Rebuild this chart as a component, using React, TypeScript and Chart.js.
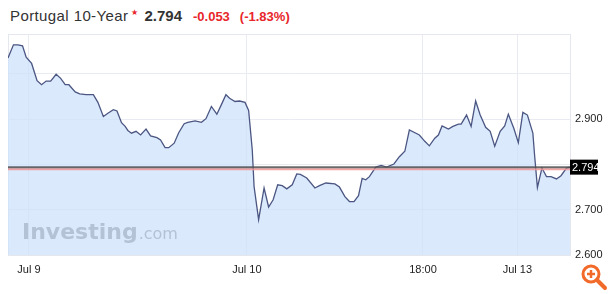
import { useEffect, useRef } from 'react';
import { Chart, registerables } from 'chart.js';

Chart.register(...registerables);

// Time axis in trading hours, Jul 9 00:00 = 0
const timeHours = [
  -2.3, -1.7, -1.2, -0.7, -0.3, 0.3, 0.9, 1.4, 1.9, 2.4,
  3.0, 3.5, 4.0, 4.4, 5.1, 5.6, 6.3, 7.1, 7.6, 8.2,
  8.7, 9.3, 9.7, 10.2, 10.6, 10.9, 11.3, 11.8, 12.3, 12.9,
  13.4, 14.1, 14.5, 15.0, 15.4, 16.0, 16.5, 17.1, 17.5, 18.3,
  19.0, 19.5, 20.1, 20.7, 21.2, 21.7, 22.1, 22.7, 23.2, 23.8,
  24.2, 24.6, 24.8, 25.3, 25.9, 26.4, 26.9, 27.4, 27.9, 28.4,
  29.0, 29.5, 29.9, 30.6, 31.5, 32.0, 32.7, 33.7, 34.2, 34.8,
  35.3, 35.8, 36.3, 36.7, 37.1, 37.5, 38.2, 38.8, 39.4, 40.2,
  40.8, 41.4, 41.9, 43.0, 43.6, 44.1, 44.7, 45.1, 45.5, 46.2,
  46.7, 47.3, 47.6, 48.2, 48.7, 49.2, 49.7, 50.3, 50.8, 51.3,
  51.9, 52.4, 52.8, 53.4, 53.9, 54.4, 54.9, 55.5, 55.7, 56.0,
  56.5, 57.0, 57.5, 58.1, 58.6, 59.2, 59.6,
];

const yields = [
  3.035, 3.064, 3.064, 3.062, 3.037, 3.023, 2.985, 2.976, 2.984, 2.984,
  2.999, 2.990, 2.976, 2.976, 2.960, 2.956, 2.954, 2.954, 2.937, 2.906,
  2.913, 2.921, 2.918, 2.892, 2.884, 2.875, 2.869, 2.873, 2.865, 2.878,
  2.863, 2.859, 2.854, 2.837, 2.837, 2.847, 2.870, 2.890, 2.893, 2.896,
  2.893, 2.901, 2.928, 2.911, 2.932, 2.954, 2.946, 2.939, 2.940, 2.937,
  2.919, 2.832, 2.751, 2.678, 2.748, 2.706, 2.722, 2.755, 2.753, 2.746,
  2.755, 2.779, 2.778, 2.770, 2.748, 2.753, 2.759, 2.757, 2.750, 2.729,
  2.718, 2.718, 2.731, 2.769, 2.766, 2.773, 2.794, 2.798, 2.794, 2.801,
  2.817, 2.829, 2.876, 2.865, 2.851, 2.841, 2.858, 2.865, 2.885, 2.878,
  2.884, 2.889, 2.889, 2.909, 2.884, 2.940, 2.909, 2.882, 2.873, 2.840,
  2.873, 2.885, 2.911, 2.880, 2.848, 2.915, 2.909, 2.869, 2.818, 2.749,
  2.792, 2.773, 2.773, 2.768, 2.775, 2.792, 2.794,
];

const xTickHours = [0, 24, 43.4, 53.8];
const xTickLabels = ['Jul 9', 'Jul 10', '18:00', 'Jul 13'];
const yTickValues = [2.6, 2.7, 2.8, 2.9, 3.0];
const yTickLabels = ['2.600', '2.700', '', '2.900', ''];

const titleName = 'Portugal 10-Year';
const lastValue = 2.794;
const lastLabel = '2.794';
const changeAbs = '-0.053';
const changePct = '(-1.83%)';

const X_MIN = -2.3;
const X_MAX = 59.7;
const Y_MIN = 2.6;
const Y_MAX = 3.088;

const FONT = "Arial, 'Liberation Sans', sans-serif";

export default function App() {
  const ref = useRef<HTMLCanvasElement | null>(null);

  useEffect(() => {
    const canvas = ref.current;
    if (!canvas) return;

    const overlay = {
      id: 'overlay',
      beforeDatasetsDraw(chart: any) {
        const { ctx, chartArea } = chart;
        ctx.save();
        ctx.strokeStyle = '#e4e7ee';
        ctx.lineWidth = 1;
        ctx.strokeRect(chartArea.left + 0.5, chartArea.top + 0.5, chartArea.right - chartArea.left - 1, chartArea.bottom - chartArea.top);
        ctx.restore();
      },
      afterDatasetsDraw(chart: any) {
        const { ctx, chartArea, scales } = chart;
        const y = scales.y.getPixelForValue(lastValue);
        ctx.save();
        // watermark
        ctx.fillStyle = 'rgba(150,162,180,0.55)';
        ctx.textBaseline = 'alphabetic';
        ctx.font = "bold 22px 'DejaVu Sans', sans-serif";
        ctx.fillText('Investing', chartArea.left + 14, 239);
        const w = ctx.measureText('Investing').width;
        ctx.font = "16px 'DejaVu Sans', sans-serif";
        ctx.fillText('.com', chartArea.left + 14 + w + 1, 239);
        // last value lines
        ctx.lineWidth = 2;
        ctx.strokeStyle = 'rgba(242,150,150,0.85)';
        ctx.beginPath();
        ctx.moveTo(chartArea.left, y + 2.2);
        ctx.lineTo(chartArea.right, y + 2.2);
        ctx.stroke();
        ctx.strokeStyle = 'rgba(80,80,80,0.85)';
        ctx.beginPath();
        ctx.moveTo(chartArea.left, y);
        ctx.lineTo(chartArea.right, y);
        ctx.stroke();
        ctx.restore();
      },
      afterDraw(chart: any) {
        const { ctx, chartArea, scales } = chart;
        const y = scales.y.getPixelForValue(lastValue);
        ctx.save();
        ctx.fillStyle = '#000';
        ctx.fillRect(chartArea.right - 1, y - 7.5, 28, 15);
        ctx.fillStyle = '#fff';
        ctx.font = `11px ${FONT}`;
        ctx.textBaseline = 'middle';
        ctx.textAlign = 'left';
        ctx.fillText(lastLabel, chartArea.right + 1, y + 0.5);
        ctx.restore();
      },
    };

    const chart = new Chart(canvas, {
      type: 'line',
      data: {
        datasets: [
          {
            data: timeHours.map((t, i) => ({ x: t, y: yields[i] })),
            borderColor: '#4b5682',
            borderWidth: 1.3,
            backgroundColor: 'rgba(205,226,251,0.75)',
            fill: 'start',
            pointRadius: 0,
            tension: 0,
          },
        ],
      },
      options: {
        animation: false,
        responsive: true,
        maintainAspectRatio: false,
        layout: { padding: { left: 8, top: 34, right: 0, bottom: 0 } },
        plugins: { legend: { display: false }, tooltip: { enabled: false } },
        scales: {
          x: {
            type: 'linear',
            min: X_MIN,
            max: X_MAX,
            afterBuildTicks: (scale: any) => {
              scale.ticks = xTickHours.map((v) => ({ value: v }));
            },
            afterFit: (scale: any) => {
              scale.height = 39;
            },
            grid: { color: '#e8ebf1', drawTicks: false },
            border: { display: false },
            ticks: {
              padding: 8,
              maxRotation: 0,
              autoSkip: false,
              color: '#222',
              font: { family: FONT, size: 11 },
              callback: (v: any) => {
                const i = xTickHours.indexOf(Number(v));
                return i >= 0 ? xTickLabels[i] : '';
              },
            },
          },
          y: {
            type: 'linear',
            position: 'right',
            min: Y_MIN,
            max: Y_MAX,
            afterBuildTicks: (scale: any) => {
              scale.ticks = yTickValues.map((v) => ({ value: v }));
            },
            afterFit: (scale: any) => {
              scale.width = 39;
            },
            grid: { color: '#e8ebf1', drawTicks: false },
            border: { display: false },
            ticks: {
              padding: 4,
              color: '#222',
              font: { family: FONT, size: 11 },
              callback: (v: any) => {
                const i = yTickValues.findIndex((t) => Math.abs(t - Number(v)) < 1e-6);
                return i >= 0 ? yTickLabels[i] : '';
              },
            },
          },
        },
      },
      plugins: [overlay],
    });
    return () => chart.destroy();
  }, []);

  return (
    <div style={{ position: 'absolute', left: 0, top: 0, width: 610, height: 294, background: '#fff', fontFamily: FONT }}>
      <div style={{ position: 'absolute', left: 10, top: 7, whiteSpace: 'nowrap', lineHeight: '18px' }}>
        <span style={{ fontSize: 15, color: '#333', letterSpacing: '0.4px' }}>{titleName}</span>
        <span style={{ fontSize: 8, color: '#e8262b', marginLeft: 3, position: 'relative', top: -6 }}>★</span>
        <span style={{ fontSize: 15, fontWeight: 'bold', color: '#333', marginLeft: 6 }}>{lastLabel}</span>
        <span style={{ fontSize: 13, fontWeight: 'bold', color: '#e8262b', marginLeft: 11 }}>{changeAbs}</span>
        <span style={{ fontSize: 13, fontWeight: 'bold', color: '#e8262b', marginLeft: 10 }}>{changePct}</span>
      </div>
      <canvas ref={ref} style={{ position: 'absolute', left: 0, top: 0, width: 610, height: 294 }} />
      <svg width="30" height="30" viewBox="0 0 30 30" style={{ position: 'absolute', left: 580, top: 263 }}>
        <circle cx="11" cy="11" r="8" fill="none" stroke="#f26a2a" strokeWidth="3" />
        <line x1="17" y1="17" x2="25" y2="25" stroke="#f26a2a" strokeWidth="4" strokeLinecap="round" />
        <line x1="11" y1="7" x2="11" y2="15" stroke="#f26a2a" strokeWidth="2.5" />
        <line x1="7" y1="11" x2="15" y2="11" stroke="#f26a2a" strokeWidth="2.5" />
      </svg>
    </div>
  );
}
